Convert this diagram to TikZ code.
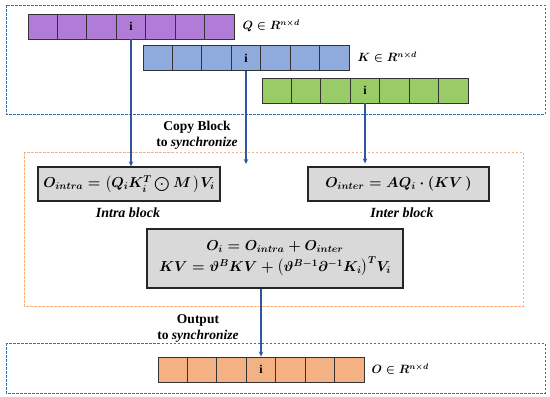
\documentclass[tikz,border=0pt]{standalone}
\usepackage{fontspec}
\setmainfont{Liberation Serif}
\usepackage{amsmath,amssymb}
\usetikzlibrary{arrows.meta,calc}
\definecolor{cpurple}{HTML}{B07CD8}
\definecolor{cblue}{HTML}{8FAADC}
\definecolor{cgreen}{HTML}{99CC66}
\definecolor{corange}{HTML}{F4B183}
\definecolor{cgray}{HTML}{D9D9D9}
\definecolor{dashblue}{HTML}{2E75B6}
\definecolor{dashorange}{HTML}{F4B183}
\definecolor{arrowblue}{HTML}{2F55A4}
\begin{document}
\begin{tikzpicture}[x=1pt,y=-1pt,
  cell/.style={draw=black!80, line width=0.9pt, minimum width=29.43pt, minimum height=25pt, inner sep=0pt, font=\bfseries\fontsize{12}{12}\selectfont},
  eqbox/.style={draw=black!85, line width=1.2pt, fill=cgray, inner sep=0pt, align=center, font=\fontsize{14}{18}\selectfont\boldmath},
  sublabel/.style={font=\bfseries\itshape\fontsize{14}{14}\selectfont},
  note/.style={font=\bfseries\fontsize{13.5}{16}\selectfont, align=center},
  setlabel/.style={anchor=west, font=\fontsize{12}{12}\selectfont\boldmath},
  flow/.style={draw=arrowblue, line width=1.2pt, -{Stealth[length=5pt,width=4.5pt]}},
  region/.style={dashed, dash pattern=on 2.5pt off 1.5pt, line width=1pt}]
\useasboundingbox (0,0) rectangle (550,397);
% regions
\draw[region, draw=dashblue] (6,5) rectangle (545,114);
\draw[region, draw=dashorange] (24,152) rectangle (523,306);
\draw[region, draw=dashblue] (6,343) rectangle (545,393);
% rows
\foreach \j in {1,...,7}{
  \node[cell, fill=cpurple] (q\j) at ({28+(\j-0.5)*29.43},26.5) {\ifnum\j=4 i\fi};
  \node[cell, fill=cblue] (k\j) at ({143+(\j-0.5)*29.43},58) {\ifnum\j=4 i\fi};
  \node[cell, fill=cgreen] (g\j) at ({262+(\j-0.5)*29.43},90.5) {\ifnum\j=4 i\fi};
  \node[cell, fill=corange] (o\j) at ({158+(\j-0.5)*29.43},369.5) {\ifnum\j=4 i\fi};
}
\node[setlabel] (ql) at (239,26) {$Q \in R^{n\times d}$};
\node[setlabel] (kl) at (354,57) {$K \in R^{n\times d}$};
\node[setlabel] (ol) at (368,369) {$O \in R^{n\times d}$};
% equation boxes
\node[eqbox, minimum width=182pt, minimum height=34pt] (intra) at (129,184)
  {$O_{intra} = \bigl(Q_i K_i^T \bigodot M\,\bigr) V_i$};
\node[eqbox, minimum width=181pt, minimum height=34pt] (inter) at (398.5,184)
  {$O_{inter} = AQ_i \cdot (KV\,)$};
\node[eqbox, minimum width=256pt, minimum height=59pt] (center) at (275,258.5)
  {$O_i = O_{intra} + O_{inter}$\\[3pt]
   $KV = \vartheta^B KV + \bigl(\vartheta^{B-1}\partial^{-1}K_i\bigr)^T V_i$};
\node[sublabel] (intral) at (128,213) {Intra block};
\node[sublabel] (interl) at (402,213) {Inter block};
\node[note] (copy) at (197,135.5) {Copy Block\\to \textit{synchronize}};
\node[note] (outp) at (198,328) {Output\\to \textit{synchronize}};
% connectors
\coordinate (kend) at (k4.south |- 0,164);
\draw[flow] (q4.south) -- (q4.south |- intra.north);
\draw[flow] (k4.south) -- (kend);
\draw[flow] (g4.south) -- ($(g4.south |- inter.north)+(0,-3)$);
\draw[flow] (o4.north |- center.south) -- (o4.north);
\end{tikzpicture}
\end{document}
